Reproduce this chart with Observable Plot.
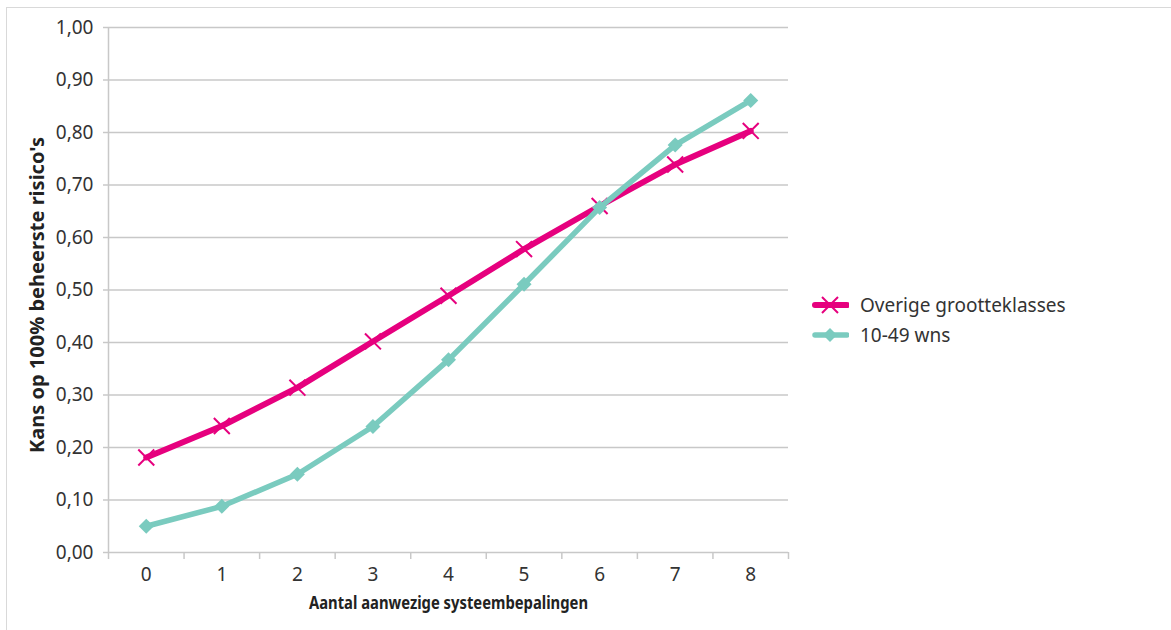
<!DOCTYPE html>
<html><head><meta charset="utf-8">
<script src="https://cdn.jsdelivr.net/npm/d3@7"></script>
<script src="https://cdn.jsdelivr.net/npm/@observablehq/plot@0.6"></script>
<style>
body{margin:0;background:#fff;font-family:"Noto Sans",sans-serif;}
#wrap{position:relative;width:1171px;height:630px;overflow:hidden;background:#fff;}
#frame{position:absolute;left:6px;top:7px;width:2000px;height:2000px;border-left:1.5px solid #d9d9d9;border-top:1.5px solid #d9d9d9;pointer-events:none;}
#chart{position:absolute;left:0;top:0;}
#legend{position:absolute;left:812px;top:290px;font-size:19px;color:#333;}
#legend .row{display:flex;align-items:center;height:30px;}
#legend svg{margin-right:11px;}
</style></head>
<body>
<div id="wrap"><div id="chart"></div><div id="frame"></div><div id="legend"></div></div>
<script>
const categories = [0, 1, 2, 3, 4, 5, 6, 7, 8];
const seriesNames = ["Overige grootteklasses", "10-49 wns"];
const overige = [0.181, 0.241, 0.314, 0.402, 0.489, 0.578, 0.660, 0.739, 0.803];
const wns = [0.050, 0.088, 0.149, 0.240, 0.367, 0.511, 0.657, 0.776, 0.861];
const yTicks = [0, 0.1, 0.2, 0.3, 0.4, 0.5, 0.6, 0.7, 0.8, 0.9, 1.0];
const xTickBounds = [-0.5, 0.5, 1.5, 2.5, 3.5, 4.5, 5.5, 6.5, 7.5, 8.5];
const yLabel = "Kans op 100% beheerste risico's";
const xLabel = "Aantal aanwezige systeembepalingen";
const colors = ["#e6007e", "#7acbbf"];

const rowsA = categories.map((c, i) => ({x: c, y: overige[i], s: seriesNames[0]}));
const rowsB = categories.map((c, i) => ({x: c, y: wns[i], s: seriesNames[1]}));
const fmt = v => v.toFixed(2).replace(".", ",");
const gridColor = "#c8c8c8";

const plot = Plot.plot({
  width: 1171, height: 630,
  marginLeft: 108, marginRight: 383, marginTop: 27, marginBottom: 78,
  style: {fontFamily: '"Noto Sans", sans-serif', fontSize: "19px", color: "#333", background: "transparent"},
  x: {type: "linear", domain: [-0.5, 8.5]},
  y: {domain: [0, 1]},
  marks: [
    Plot.ruleY(yTicks, {stroke: gridColor, strokeWidth: 1.5}),
    Plot.ruleX([-0.5], {stroke: gridColor, strokeWidth: 1.5, y1: 0, y2: 1}),
    Plot.axisY({ticks: yTicks, tickFormat: fmt, tickSize: 5, tickPadding: 10, stroke: gridColor, strokeWidth: 1.5, label: null, fill: "#333", fontSize: 19}),
    Plot.axisX({ticks: xTickBounds, tickFormat: () => "", tickSize: 7, stroke: gridColor, strokeWidth: 1.5, label: null}),
    Plot.axisX({ticks: categories, tickFormat: d => String(d), tickSize: 0, tickPadding: 15, label: null, fill: "#333", fontSize: 19}),
    Plot.text([yLabel], {frameAnchor: "left", dx: -71, dy: 5, rotate: -90, textAnchor: "middle", fontWeight: "bold", fontSize: 20, fill: "#222"}),
    Plot.text([xLabel], {frameAnchor: "bottom", dy: 56, textAnchor: "middle", fontWeight: "bold", fontSize: 18, fill: "#222"}),
    Plot.lineY(rowsA, {x: "x", y: "y", stroke: colors[0], strokeWidth: 6}),
    Plot.dot(rowsA, {x: "x", y: "y", symbol: "times", r: 7.3, stroke: colors[0], strokeWidth: 2}),
    Plot.lineY(rowsB, {x: "x", y: "y", stroke: colors[1], strokeWidth: 5.5}),
    Plot.dot(rowsB, {x: "x", y: "y", symbol: "square", r: 6, rotate: 45, fill: colors[1], stroke: "none"})
  ]
});
document.getElementById("chart").appendChild(plot);

// narrow the x-axis title to the reference's condensed look
const xt = Array.from(plot.querySelectorAll("text")).find(t => t.textContent === xLabel);
if (xt) { xt.setAttribute("textLength", 279); xt.setAttribute("lengthAdjust", "spacingAndGlyphs"); }

// legend
const leg = document.getElementById("legend");
seriesNames.forEach((name, i) => {
  const row = document.createElement("div");
  row.className = "row";
  const marker = i === 0
    ? `<line x1="3" y1="10" x2="35" y2="10" stroke="${colors[0]}" stroke-width="6" stroke-linecap="round"/><path d="M10,2L26,18M10,18L26,2" stroke="${colors[0]}" stroke-width="2"/>`
    : `<line x1="3" y1="10" x2="35" y2="10" stroke="${colors[1]}" stroke-width="5.5" stroke-linecap="round"/><path d="M18,3L25,10L18,17L11,10Z" fill="${colors[1]}"/>`;
  row.innerHTML = `<svg width="37" height="20">${marker}</svg><span>${name}</span>`;
  leg.appendChild(row);
});
</script>
</body></html>
